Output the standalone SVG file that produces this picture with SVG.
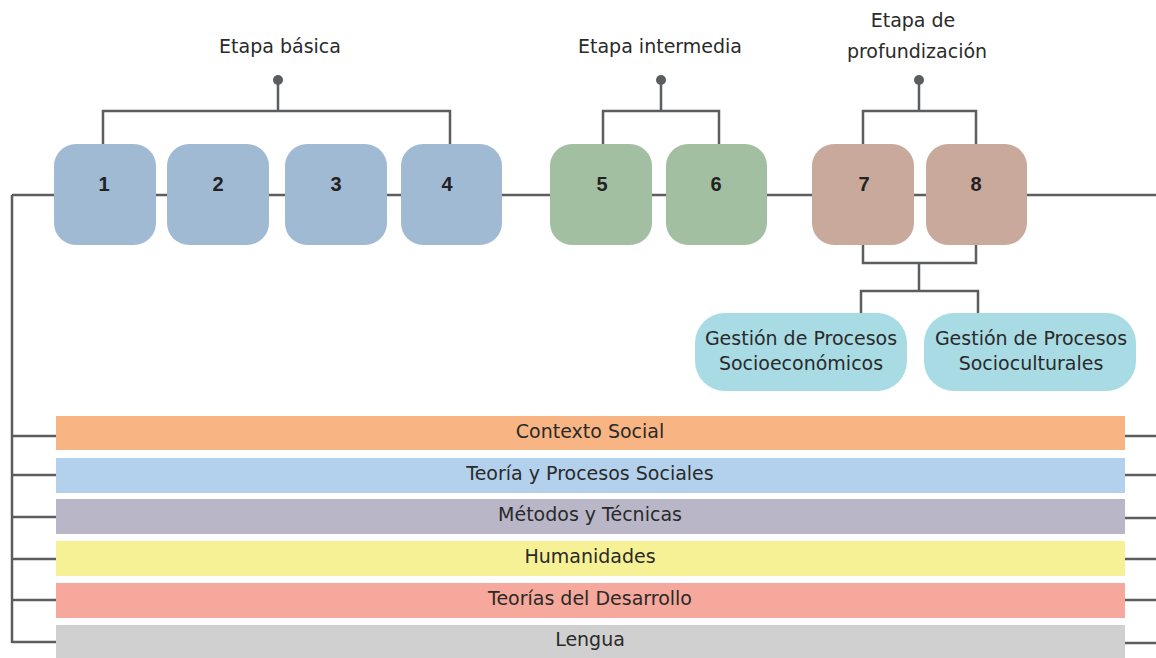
<svg xmlns="http://www.w3.org/2000/svg" width="1156" height="658" viewBox="0 0 1156 658">
<style>
.ln{fill:none;stroke:#5b5e60;stroke-width:2.5}
.dot{fill:#5b5e60}
.lbl{font-family:"DejaVu Sans","Liberation Sans",Arial,sans-serif;font-size:19px;fill:#2a2a2a;text-anchor:middle}
.num{font-family:"Liberation Sans",Arial,sans-serif;font-size:20px;font-weight:bold;fill:#222;text-anchor:middle}
.bar{font-family:"DejaVu Sans","Liberation Sans",Arial,sans-serif;font-size:19px;fill:#2a2a2a;text-anchor:middle}
.b{fill:#a1bad4}.g{fill:#a2bfa1}.r{fill:#c8a99b}.o{fill:#a8dbe3}
</style>
<rect width="1156" height="658" fill="#fff"/>
<g id="connectors">
<path class="ln" d="M12 195H1156M12 195V643"/>
<path class="ln" d="M103 144V111H450V144M278 111V80"/>
<path class="ln" d="M603 144V111H719V144M661 111V80"/>
<path class="ln" d="M863 144V111H976V144M919 111V80"/>
<path class="ln" d="M863 245V263H976V245M919 263V291M861 313V291H978V313"/>
<path class="ln" d="M12 436H56M12 475H56M12 517H56M12 559H56M12 600H56M12 642H56"/>
<path class="ln" d="M1125 436H1156M1125 475H1156M1125 518H1156M1125 559H1156M1125 600H1156M1125 643H1156"/>
<circle class="dot" cx="278" cy="80" r="5"/>
<circle class="dot" cx="661" cy="80" r="5"/>
<circle class="dot" cx="919" cy="80" r="5"/>
</g>
<g id="stage-labels">
<text class="lbl" x="280" y="53">Etapa básica</text>
<text class="lbl" x="660" y="53">Etapa intermedia</text>
<text class="lbl" x="913" y="27">Etapa de</text>
<text class="lbl" x="917" y="58">profundización</text>
</g>
<g id="n1"><rect class="b" x="54" y="144" width="102" height="101" rx="22"/><text class="num" x="104" y="191">1</text></g>
<g id="n2"><rect class="b" x="167" y="144" width="102" height="101" rx="22"/><text class="num" x="218" y="191">2</text></g>
<g id="n3"><rect class="b" x="285" y="144" width="102" height="101" rx="22"/><text class="num" x="336" y="191">3</text></g>
<g id="n4"><rect class="b" x="401" y="144" width="101" height="101" rx="22"/><text class="num" x="447" y="191">4</text></g>
<g id="n5"><rect class="g" x="550" y="144" width="102" height="101" rx="22"/><text class="num" x="602" y="191">5</text></g>
<g id="n6"><rect class="g" x="666" y="144" width="101" height="101" rx="22"/><text class="num" x="716" y="191">6</text></g>
<g id="n7"><rect class="r" x="812" y="144" width="102" height="101" rx="22"/><text class="num" x="864" y="191">7</text></g>
<g id="n8"><rect class="r" x="926" y="144" width="101" height="101" rx="22"/><text class="num" x="976" y="191">8</text></g>
<g id="g1"><rect class="o" x="695" y="313" width="212" height="78" rx="30"/><text class="lbl" x="801" y="345">Gestión de Procesos</text><text class="lbl" x="801" y="370">Socioeconómicos</text></g>
<g id="g2"><rect class="o" x="924" y="313" width="212" height="78" rx="30"/><text class="lbl" x="1031" y="345">Gestión de Procesos</text><text class="lbl" x="1031" y="370">Socioculturales</text></g>
<g id="bar1"><rect x="56" y="416" width="1069" height="34" fill="#f8b583"/><text class="bar" x="590" y="438">Contexto Social</text></g>
<g id="bar2"><rect x="56" y="458" width="1069" height="35" fill="#b3d1ec"/><text class="bar" x="590" y="480">Teoría y Procesos Sociales</text></g>
<g id="bar3"><rect x="56" y="499" width="1069" height="35" fill="#b9b6c8"/><text class="bar" x="590" y="521">Métodos y Técnicas</text></g>
<g id="bar4"><rect x="56" y="541" width="1069" height="35" fill="#f7f196"/><text class="bar" x="590" y="563">Humanidades</text></g>
<g id="bar5"><rect x="56" y="583" width="1069" height="35" fill="#f5a89b"/><text class="bar" x="590" y="605">Teorías del Desarrollo</text></g>
<g id="bar6"><rect x="56" y="625" width="1069" height="33" fill="#d0d0d0"/><text class="bar" x="590" y="646">Lengua</text></g>
</svg>
